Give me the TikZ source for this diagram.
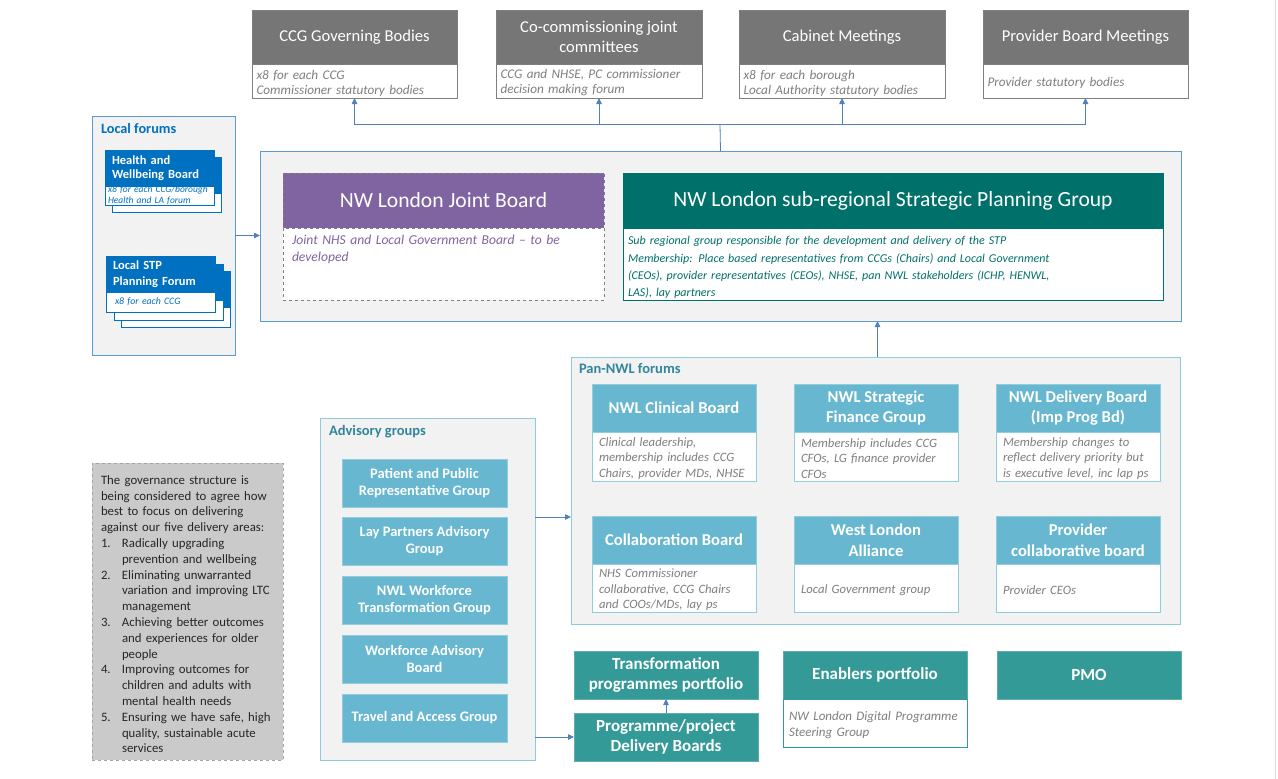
\documentclass[tikz,border=0pt]{standalone}
\usepackage{fontspec}
\setmainfont{Carlito}
\usetikzlibrary{arrows.meta,calc}
\newcommand\fs[2]{\fontsize{#1}{#2}\selectfont}
\newcommand\itm[1]{\makebox[21pt][l]{#1}}
\newcommand\ind{\hspace*{21pt}}
\definecolor{hdrgrey}{HTML}{767676}
\definecolor{boxborder}{HTML}{7F7F7F}
\definecolor{descgrey}{HTML}{7F7F7F}
\definecolor{linkblue}{HTML}{4F81BD}
\definecolor{contblue}{HTML}{5B9BD5}
\definecolor{lfblue}{HTML}{0070C0}
\definecolor{jbpurple}{HTML}{8064A2}
\definecolor{spgteal}{HTML}{00706A}
\definecolor{pancont}{HTML}{8CCCDC}
\definecolor{panhdr}{HTML}{66B7CF}
\definecolor{panborder}{HTML}{92CDDC}
\definecolor{tealmed}{HTML}{349A97}
\definecolor{titleteal}{HTML}{31859C}
\definecolor{bgpanel}{HTML}{F2F2F2}
\definecolor{notegrey}{HTML}{CACACA}
\definecolor{edgeline}{HTML}{DDDDDD}
\begin{document}
\begin{tikzpicture}[x=1pt,y=-1pt,
  every node/.style={inner sep=0pt, outer sep=0pt},
  hdr/.style={rectangle, anchor=north west, align=center, text=white},
  dsc/.style={rectangle, anchor=north west, align=left, fill=white, inner xsep=6pt, inner ysep=0pt, font=\itshape\fs{13}{15.5}, text=descgrey, execute at begin node={\rule{0pt}{1em}}},
  arr/.style={draw=linkblue, line width=0.8pt, -{Triangle[length=6pt,width=5.5pt]}},
  panel/.style={rectangle, anchor=north west, fill=bgpanel, line width=0.8pt},
  ptitle/.style={anchor=west, text=titleteal, font=\bfseries\fs{14.5}{17}},
  tophdr/.style={hdr, fill=hdrgrey, draw=boxborder, line width=0.6pt, minimum width=205pt, minimum height=54pt, font=\fs{16.6}{20}},
  topdsc/.style={dsc, draw=boxborder, line width=0.6pt, minimum height=34pt, inner xsep=4.5pt, text width=196pt, font=\itshape\fs{13.2}{15}},
  panh/.style={hdr, fill=panhdr, draw=panborder, line width=0.8pt, minimum width=164pt, minimum height=48pt, font=\bfseries\fs{16.6}{20.5}},
  pand/.style={dsc, draw=panborder, line width=0.8pt, minimum height=49pt, text width=150pt, inner xsep=7pt, font=\itshape\fs{12.7}{15.5}},
  advbox/.style={hdr, fill=panhdr, draw=panborder, line width=0.8pt, minimum width=165pt, minimum height=48pt, font=\bfseries\fs{14.5}{17.3}},
  tealbox/.style={hdr, fill=tealmed, draw=tealmed!80!white, line width=0.8pt, minimum width=184pt, minimum height=48pt, font=\bfseries\fs{17}{20.5}},
  lfhdr/.style={rectangle, anchor=north west, fill=lfblue, draw=lfblue, line width=0.6pt, minimum width=109pt, minimum height=36pt, align=left, text=white, inner xsep=7pt, text width=95pt, font=\bfseries\fs{12.5}{15}},
  lfdsc/.style={rectangle, anchor=north west, fill=white, draw=lfblue, line width=0.6pt, minimum width=109pt, align=left, text=lfblue, inner xsep=3pt, text width=103pt, font=\itshape\fs{9.5}{11}}
]
\useasboundingbox (0,0) rectangle (1278,779);
\fill[white] (0,0) rectangle (1278,779);
\draw[edgeline, line width=1pt] (1275,0) -- (1275,779);

% ---------- top statutory bodies ----------
\node[tophdr] (ccgh) at (252,10) {CCG Governing Bodies};
\node[topdsc] (ccgd) at (ccgh.south west) {x8 for each CCG\\Commissioner statutory bodies};
\node[tophdr, minimum width=206pt] (coh) at (496,10) {Co-commissioning joint\\committees};
\node[topdsc, text width=197pt] (cod) at (coh.south west) {CCG and NHSE, PC commissioner\\decision making forum};
\node[tophdr, minimum width=206pt] (cabh) at (739,10) {Cabinet Meetings};
\node[topdsc, text width=197pt] (cabd) at (cabh.south west) {x8 for each borough\\Local Authority statutory bodies};
\node[tophdr] (provh) at (983,10) {Provider Board Meetings};
\node[topdsc] (provd) at (provh.south west) {Provider statutory bodies};

% ---------- main container ----------
\node[panel, draw=contblue, minimum width=921pt, minimum height=170pt] (main) at (260,151) {};
\node[hdr, fill=jbpurple, draw=boxborder, dashed, line width=0.6pt, minimum width=321pt, minimum height=55pt, font=\fs{21.6}{25}] (jbh) at (283,173) {NW London Joint Board};
\node[rectangle, anchor=north west, fill=white, draw=boxborder, dashed, line width=0.6pt, minimum width=321pt, minimum height=72pt] (jbd) at (jbh.south west) {};
\node[anchor=north west, align=left, text=jbpurple, font=\itshape\fs{13.6}{17.3}, text width=310pt] (jbt) at ([xshift=9pt,yshift=-7pt]jbd.north west) {Joint NHS and Local Government Board -- to be\\developed};
\node[hdr, fill=spgteal, draw=spgteal, line width=0.6pt, minimum width=540pt, minimum height=55pt, font=\fs{21.6}{25}] (spgh) at (623,173) {NW London sub-regional Strategic Planning Group};
\node[rectangle, anchor=north west, fill=white, draw=spgteal, line width=0.8pt, minimum width=540pt, minimum height=72pt] (spgd) at (spgh.south west) {};
\node[anchor=north west, align=left, text=spgteal, font=\itshape\fs{12}{17.3}, text width=530pt] (spgt) at ([xshift=5pt,yshift=-8.5pt]spgd.north west) {Sub regional group responsible for the development and delivery of the STP\\Membership: Place based representatives from CCGs (Chairs) and Local Government\\(CEOs), provider representatives (CEOs), NHSE, pan NWL stakeholders (ICHP, HENWL,\\LAS), lay partners};

% ---------- local forums ----------
\node[panel, draw=contblue, minimum width=143pt, minimum height=239pt] (lf) at (92,116) {};
\node[anchor=west, text=lfblue, font=\bfseries\fs{14.3}{17}] (lft) at (101,129) {Local forums};
% HWB stack
\node[lfhdr] (hwbbh) at (112,157) {};
\node[lfdsc, minimum height=19pt] (hwbbd) at (hwbbh.south west) {};
\node[lfhdr, font=\bfseries\fs{12.5}{14.5}] (hwbh) at (105,150) {Health and\\Wellbeing Board};
\node[lfdsc, minimum height=19pt] (hwbd) at (hwbh.south west) {x8 for each CCG/borough\\Health and LA forum};
% Local STP stack
\node[lfhdr] (stpch) at (121,271) {};
\node[lfdsc, minimum height=20pt] (stpcd) at (stpch.south west) {};
\node[lfhdr] (stpbh) at (114,264) {};
\node[lfdsc, minimum height=20pt] (stpbd) at (stpbh.south west) {};
\node[lfhdr, font=\bfseries\fs{12.5}{16}] (stph) at (106,256) {Local STP\\Planning Forum};
\node[lfdsc, minimum height=20pt, inner xsep=9pt, text width=91pt, font=\itshape\fs{9.8}{12}] (stpd) at (stph.south west) {x8 for each CCG};

% ---------- Pan-NWL forums ----------
\node[panel, draw=pancont, minimum width=609pt, minimum height=267pt] (pan) at (571,357) {};
\node[ptitle] (pant) at (579,369) {Pan-NWL forums};
\node[panh] (cbh) at (592,384) {NWL Clinical Board};
\node[pand] (cbd) at (cbh.south west) {Clinical leadership,\\membership includes CCG\\Chairs, provider MDs, NHSE};
\node[panh] (sfh) at (794,384) {NWL Strategic\\Finance Group};
\node[pand] (sfd) at (sfh.south west) {Membership includes CCG\\CFOs, LG finance provider\\CFOs};
\node[panh] (dbh) at (996,384) {NWL Delivery Board\\(Imp Prog Bd)};
\node[pand] (dbd) at (dbh.south west) {Membership changes to\\reflect delivery priority but\\is executive level, inc lap ps};
\node[panh] (colh) at (592,516) {Collaboration Board};
\node[pand, minimum height=48pt] (cold) at (colh.south west) {NHS Commissioner\\collaborative, CCG Chairs\\and COOs/MDs, lay ps};
\node[panh] (wlah) at (794,516) {West London\\Alliance};
\node[pand, minimum height=48pt] (wlad) at (wlah.south west) {Local Government group};
\node[panh] (pcbh) at (996,516) {Provider\\collaborative board};
\node[pand, minimum height=48pt] (pcbd) at (pcbh.south west) {Provider CEOs};

% ---------- Advisory groups ----------
\node[panel, draw=pancont, minimum width=215pt, minimum height=342pt] (adv) at (320,418) {};
\node[ptitle] (advt) at (329,432) {Advisory groups};
\node[advbox] (ppr) at (342,459) {Patient and Public\\Representative Group};
\node[advbox] (lay) at (342,517) {Lay Partners Advisory\\Group};
\node[advbox] (wtg) at (342,576) {NWL Workforce\\Transformation Group};
\node[advbox] (wab) at (342,635) {Workforce Advisory\\Board};
\node[advbox] (tag) at (342,694) {Travel and Access Group};

% ---------- note ----------
\node[rectangle, anchor=north west, fill=notegrey, draw=boxborder!70!white, dashed, line width=0.6pt, minimum width=191pt, minimum height=297pt] (note) at (92,463) {};
\node[anchor=north west, align=left, text=black!85, font=\fs{12.8}{15.8}, text width=182pt] (notet) at (101,475.5) {The governance structure is\\being considered to agree how\\best to focus on delivering\\against our five delivery areas:\\
\itm{1.}Radically upgrading\\\ind prevention and wellbeing\\
\itm{2.}Eliminating unwarranted\\\ind variation and improving LTC\\\ind management\\
\itm{3.}Achieving better outcomes\\\ind and experiences for older\\\ind people\\
\itm{4.}Improving outcomes for\\\ind children and adults with\\\ind mental health needs\\
\itm{5.}Ensuring we have safe, high\\\ind quality, sustainable acute\\\ind services};

% ---------- bottom portfolios ----------
\node[tealbox] (trans) at (574,651) {Transformation\\programmes portfolio};
\node[tealbox] (prog) at (574,713) {Programme/project\\Delivery Boards};
\node[tealbox] (enh) at (783,651) {Enablers portfolio};
\node[dsc, draw=tealmed, line width=0.8pt, minimum height=48pt, text width=172pt] (end) at (enh.south west) {NW London Digital Programme\\Steering Group};
\node[tealbox] (pmo) at (997,651) {PMO};

% ---------- connectors ----------
\coordinate (hub) at (720,124);
\draw[draw=linkblue, line width=0.8pt] (main.north) -- (hub);
\draw[arr] (hub) -| (ccgd.south);
\draw[arr] (hub) -| (cod.south);
\draw[arr] (hub) -| (cabd.south);
\draw[arr] (hub) -| (provd.south);
\draw[arr] (lf.east) -- (lf.east -| main.west);
\draw[arr] ([xshift=2pt]pan.north) -- ([xshift=2pt]pan.north |- main.south);
\draw[arr] (lay.north -| adv.east) -- (lay.north -| pan.west);
\draw[arr] (prog.west -| adv.east) -- (prog.west);
\draw[arr] (prog.north) -- (trans.south);
\end{tikzpicture}
\end{document}
